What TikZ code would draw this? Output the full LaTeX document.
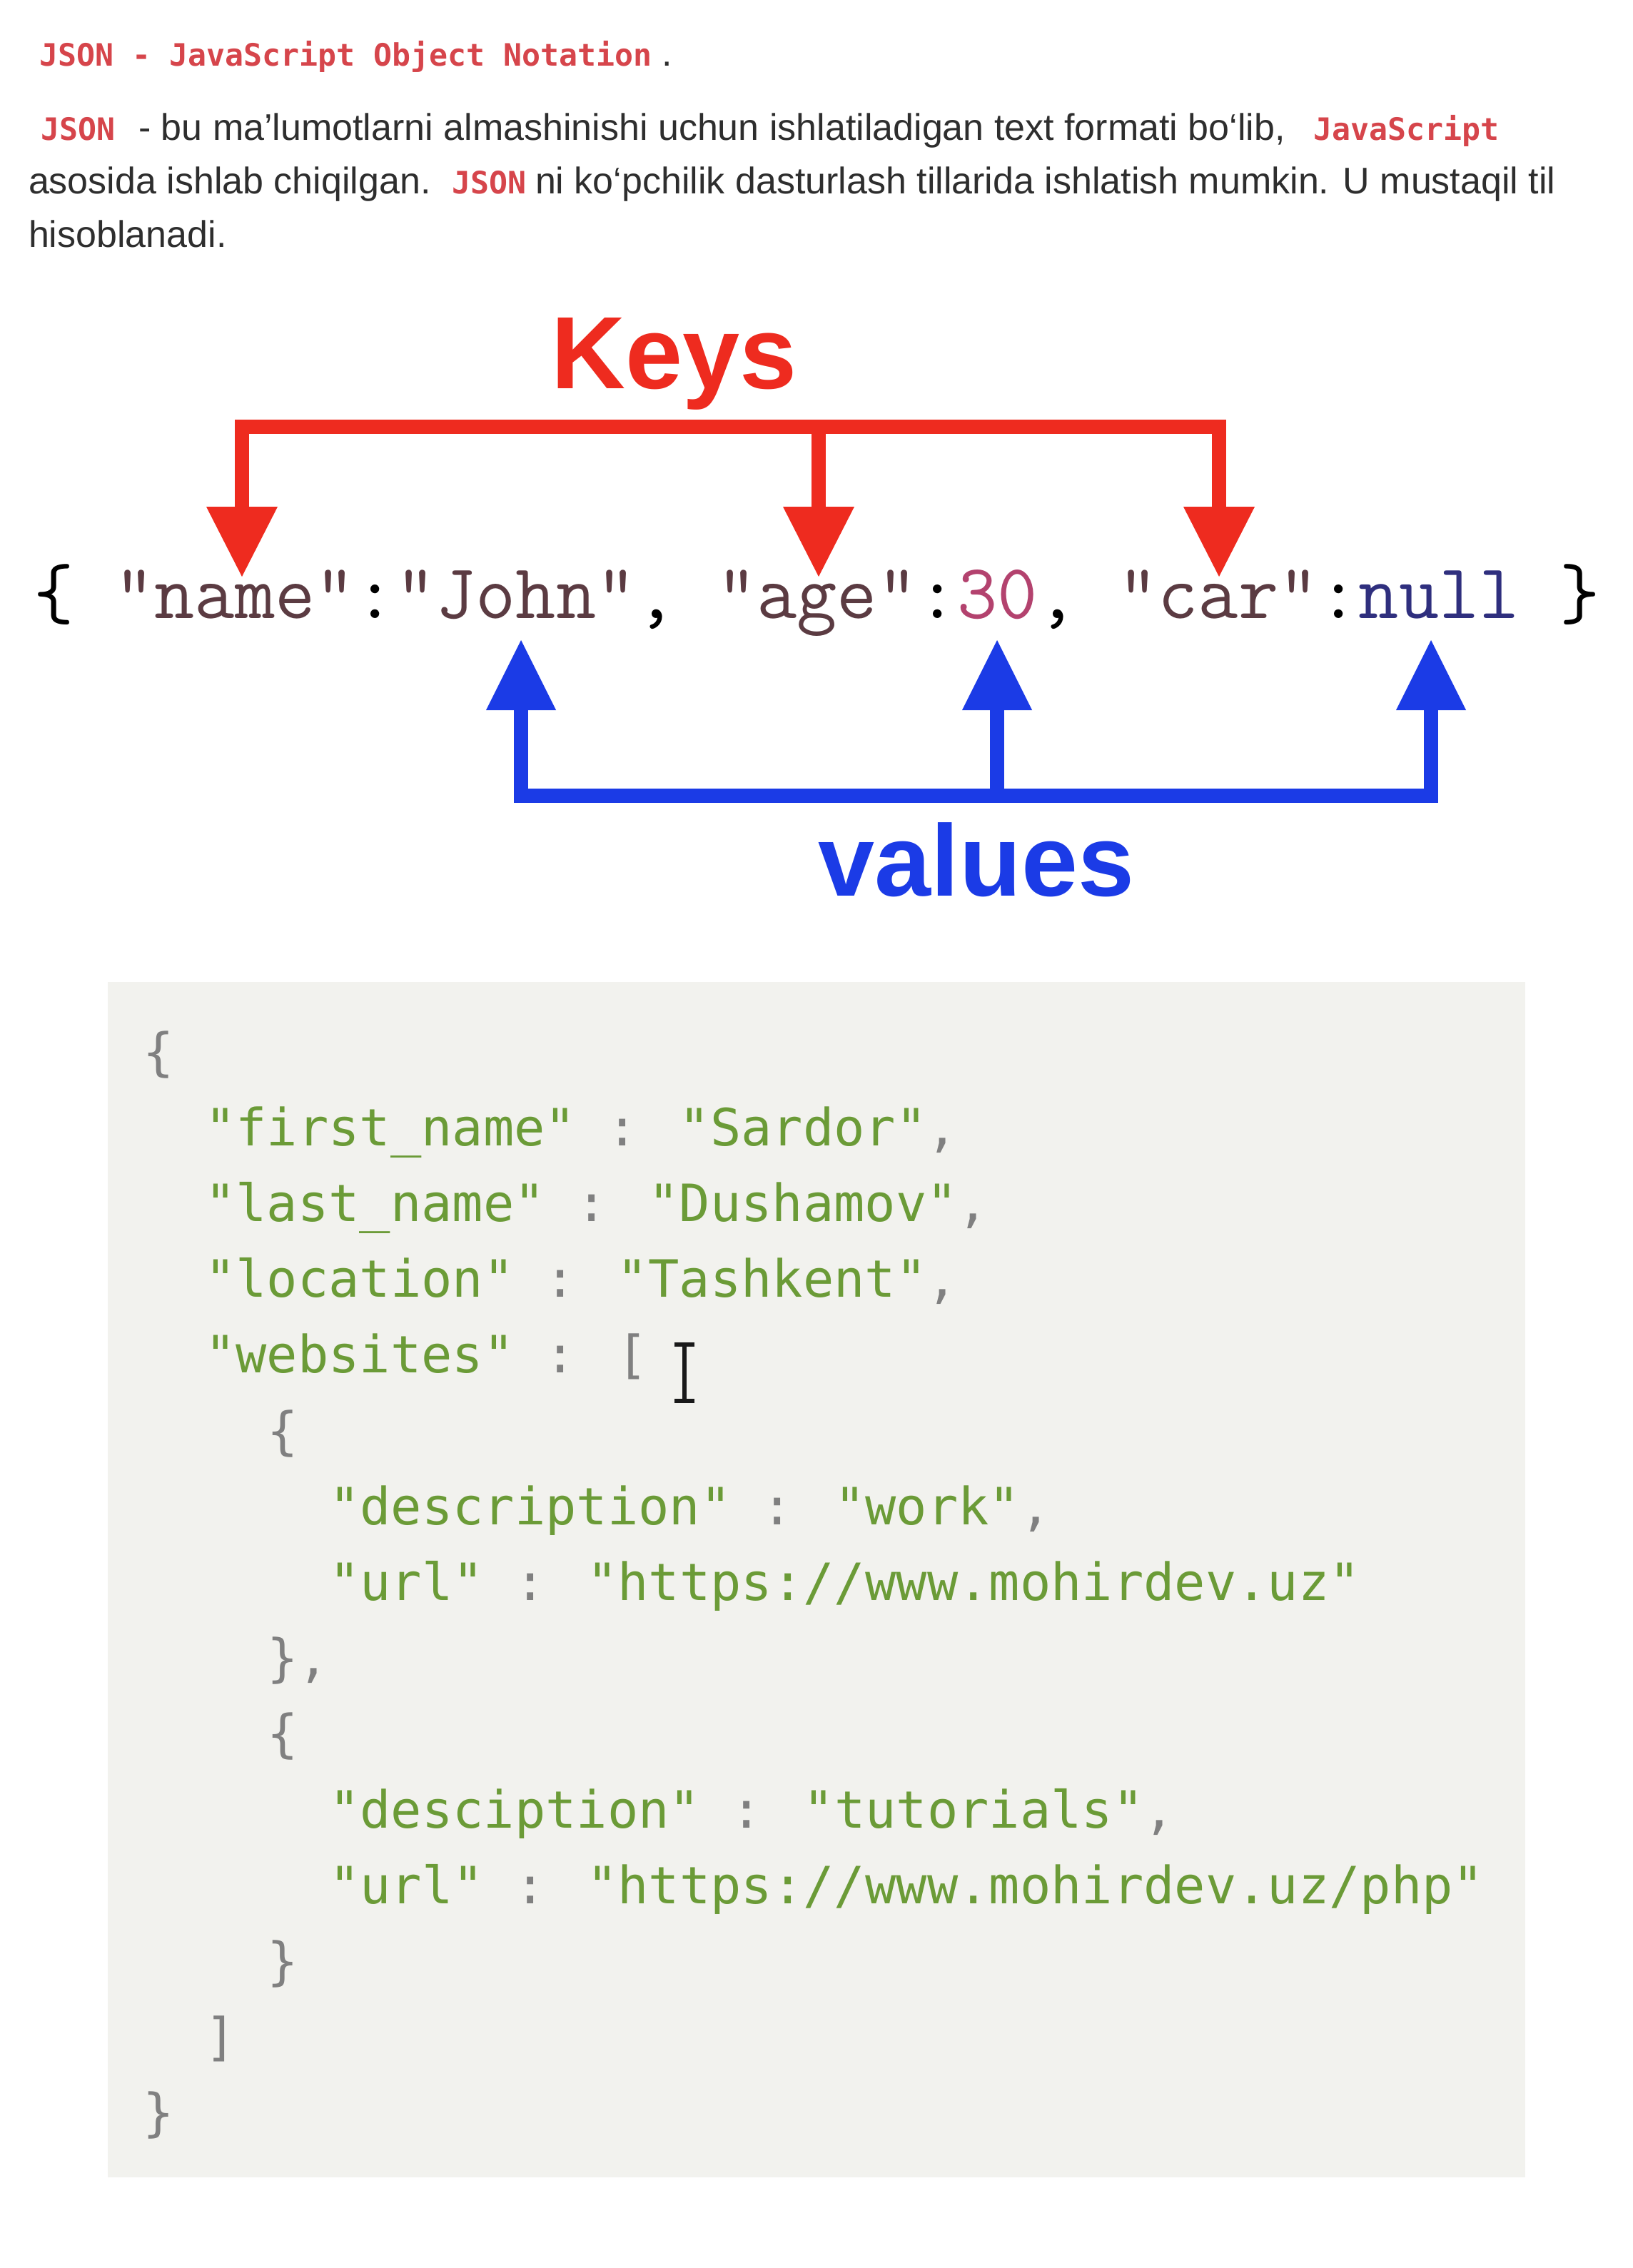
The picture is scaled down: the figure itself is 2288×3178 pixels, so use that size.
\documentclass[tikz,border=0pt]{standalone}
\usepackage{fontspec}
\setmainfont{Liberation Sans}
\newfontfamily\djmono{DejaVu Sans Mono}[Ligatures=TeXOff]
\usetikzlibrary{arrows.meta}
\definecolor{inlred}{HTML}{D6454B}
\definecolor{bodygray}{HTML}{2E2E2E}
\definecolor{keyred}{HTML}{EE2B1F}
\definecolor{valblue}{HTML}{1B3BE6}
\definecolor{strbrown}{HTML}{5B3B42}
\definecolor{numpink}{HTML}{B3426E}
\definecolor{nullnavy}{HTML}{2F2F7E}
\definecolor{boxbg}{HTML}{F2F2EE}
\definecolor{codegreen}{HTML}{6B9B37}
\definecolor{codegray}{HTML}{808080}
\newcommand{\inl}[1]{{\djmono\bfseries\fontsize{10.8pt}{13pt}\selectfont\color{inlred}#1}}
\newcommand{\gs}[1]{\textcolor{codegreen}{#1}}
\tikzset{
  txt/.style={anchor=base west, inner sep=0pt, outer sep=0pt,
    font=\fontsize{13pt}{15.6pt}\selectfont, text=bodygray},
  kv/.style={anchor=base west, inner sep=0pt, outer sep=0pt,
    font=\ttfamily\fontsize{27.3pt}{31pt}\selectfont, text=black},
  cl/.style={anchor=base west, inner sep=0pt, outer sep=0pt,
    font=\djmono\fontsize{18pt}{21pt}\selectfont, text=codegray},
  bigred/.style={anchor=base, inner sep=0pt, text=keyred,
    font=\bfseries\fontsize{36pt}{40pt}\selectfont},
  bigblue/.style={anchor=base, inner sep=0pt, text=valblue,
    font=\bfseries\fontsize{35.5pt}{40pt}\selectfont},
  keyline/.style={draw=keyred, line width=5pt, line join=miter},
  valline/.style={draw=valblue, line width=5pt, line join=miter},
  ktip/.tip={Triangle[length=24.5pt,width=25pt,line width=0pt]},
  vtip/.tip={Triangle[length=24.5pt,width=24.5pt,line width=0pt]},
}
\begin{document}
\begin{tikzpicture}[x=0.25pt,y=-0.25pt]
\useasboundingbox[fill=white] (0,0) rectangle (2288,3178);

% ---------- intro text ----------
\node[txt] (title) at (55,93) {\inl{JSON - JavaScript Object Notation} .};
\node[txt] (l2a) at (57,197) {\inl{JSON}};
\node[txt] (l2b) at (194,197) {- bu ma’lumotlarni almashinishi uchun ishlatiladigan text formati bo‘lib,};
\node[txt] (l2c) at (1840,197) {\inl{JavaScript}};
\node[txt] (l3a) at (40,272) {asosida ishlab chiqilgan.};
\node[txt] (l3b) at (633,272) {\inl{JSON}};
\node[txt] (l3c) at (750,272) {ni ko‘pchilik dasturlash tillarida ishlatish mumkin. U mustaqil til};
\node[txt] (l4) at (40,347) {hisoblanadi.};

% ---------- keys / values diagram ----------
\node[bigred] (keys) at (945,544) {Keys};
\node[kv] (jsonline) at (48,866) {\{ \textcolor{strbrown}{"name"}:\textcolor{strbrown}{"John"}, \textcolor{strbrown}{"age"}:\textcolor{numpink}{30}, \textcolor{strbrown}{"car"}:\textcolor{nullnavy}{null} \}};
\node[bigblue] (values) at (1368,1255) {values};

\coordinate (kb1) at (339,598);
\coordinate (kb2) at (1147,598);
\coordinate (kb3) at (1708,598);
\coordinate (kt1) at (339,808);
\coordinate (kt2) at (1147,808);
\coordinate (kt3) at (1708,808);
\draw[keyline, {ktip}-{ktip}] (kt1) -- (kb1) -- (kb3) -- (kt3);
\draw[keyline, -{ktip}] (kb2) -- (kt2);

\coordinate (vb1) at (730,1115);
\coordinate (vb2) at (1397,1115);
\coordinate (vb3) at (2005,1115);
\coordinate (vt1) at (730,897);
\coordinate (vt2) at (1397,897);
\coordinate (vt3) at (2005,897);
\draw[valline, {vtip}-{vtip}] (vt1) -- (vb1) -- (vb3) -- (vt3);
\draw[valline, -{vtip}] (vb2) -- (vt2);

% ---------- code box ----------
\node[fill=boxbg, inner sep=0pt, outer sep=0pt, anchor=north west,
      minimum width=496.5pt, minimum height=418.75pt] (codebox) at (151,1376) {};

\node[cl] (c0)  at (200,1499.0) {\{};
\node[cl] (c1)  at (287,1605.2) {\gs{"first\_name"} : \gs{"Sardor"},};
\node[cl] (c2)  at (287,1711.4) {\gs{"last\_name"} : \gs{"Dushamov"},};
\node[cl] (c3)  at (287,1817.6) {\gs{"location"} : \gs{"Tashkent"},};
\node[cl] (c4)  at (287,1923.8) {\gs{"websites"} : [};
\node[cl] (c5)  at (374,2030.0) {\{};
\node[cl] (c6)  at (461,2136.2) {\gs{"description"} : \gs{"work"},};
\node[cl] (c7)  at (461,2242.4) {\gs{"url"} : \gs{"https://www.mohirdev.uz"}};
\node[cl] (c8)  at (374,2348.6) {\},};
\node[cl] (c9)  at (374,2454.8) {\{};
\node[cl] (c10) at (461,2561.0) {\gs{"desciption"} : \gs{"tutorials"},};
\node[cl] (c11) at (461,2667.2) {\gs{"url"} : \gs{"https://www.mohirdev.uz/php"}};
\node[cl] (c12) at (374,2773.4) {\}};
\node[cl] (c13) at (287,2879.6) {]};
\node[cl] (c14) at (200,2985.8) {\}};

% text cursor (I-beam)
\coordinate (ibtop) at (959,1884);
\coordinate (ibbot) at (959,1963);
\draw[line width=1.3pt, draw=black!90] (ibtop) -- (ibbot);
\draw[line width=1.3pt, draw=black!90] ([xshift=-3.5pt]ibtop) -- ([xshift=3.5pt]ibtop);
\draw[line width=1.3pt, draw=black!90] ([xshift=-3.5pt]ibbot) -- ([xshift=3.5pt]ibbot);
\end{tikzpicture}
\end{document}
